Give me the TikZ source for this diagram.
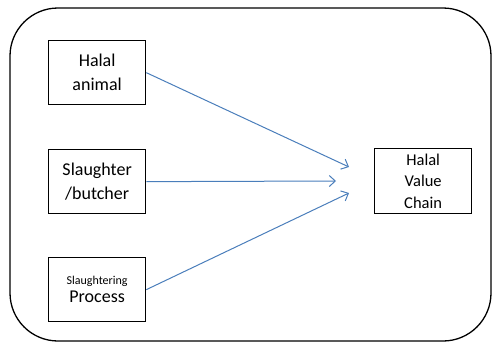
\documentclass[tikz,border=0pt]{standalone}
\usepackage{fontspec}
\setmainfont{Carlito}
\usetikzlibrary{arrows.meta}
\definecolor{arrowblue}{HTML}{4A7EBB}
\tikzset{
  box/.style={draw, line width=1.3pt, minimum width=97pt, minimum height=64pt, inner sep=0pt, align=center, anchor=north west},
  conn/.style={draw=arrowblue, line width=1pt, -{Straight Barb[length=6pt,width=11pt]}},
}
\begin{document}
\begin{tikzpicture}[x=1pt,y=-1pt]
\useasboundingbox (0,0) rectangle (492,343);
\draw[line width=1.3pt, rounded corners=48pt] (10,8) rectangle (491,341);
\node[box, font=\fontsize{18}{24}\selectfont] (a) at (48,40) {Halal\\animal};
\node[box, font=\fontsize{18}{24}\selectfont] (b) at (48,149) {Slaughter\\/butcher};
\node[box] (c) at (48,257) {{\fontsize{12}{14}\selectfont Slaughtering}\\[3pt]{\fontsize{18}{22}\selectfont Process}};
\node[box, minimum width=97pt, minimum height=65pt, font=\fontsize{16.5}{21.5}\selectfont] (d) at (374,148) {Halal\\Value\\Chain};
\coordinate (ta) at (349,167);
\coordinate (tb) at (336,181);
\coordinate (tc) at (349,193);
\draw[conn] (a.east) -- (ta);
\draw[conn] (b.east) -- (tb);
\draw[conn] (c.east) -- (tc);
\end{tikzpicture}
\end{document}
